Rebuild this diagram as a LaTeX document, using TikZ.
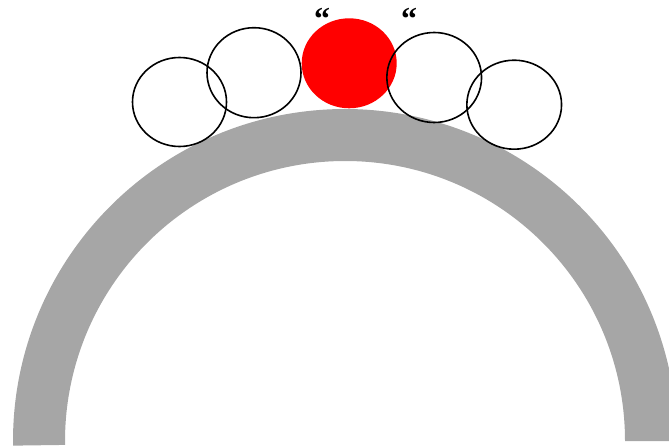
\documentclass[tikz,border=0pt]{standalone}
\usepackage{fontspec}
\newfontfamily\quotefont{Liberation Serif}
\usetikzlibrary{shapes.geometric}
\definecolor{arcgray}{HTML}{A6A6A6}
\definecolor{ballred}{HTML}{FF0000}
\tikzset{
  ringball/.style={ellipse, draw=black, line width=1.6pt, inner sep=0pt, fill=none},
  redball/.style={ellipse, fill=ballred, draw=none, inner sep=0pt},
  quotemark/.style={anchor=base, inner sep=0pt, font=\quotefont\bfseries\fontsize{32}{32}\selectfont}
}
\begin{document}
\begin{tikzpicture}[x=1pt,y=1pt]
\useasboundingbox (0,0) rectangle (669,445);
\clip (0,0) rectangle (669,445);
\fill[arcgray] (345,4) ++(180.8:332) arc[start angle=180.8,end angle=0,radius=332]
  -- ++(-52,0) arc[start angle=0,end angle=180.8,radius=280] -- cycle;
\node[ringball, minimum width=94, minimum height=89] (c1) at (179.5,343) {};
\node[ringball, minimum width=94, minimum height=90] (c2) at (254,372.3) {};
\node[redball, minimum width=95, minimum height=90] (red) at (349.2,381.7) {};
\node[ringball, minimum width=94.7, minimum height=90] (c4) at (434.2,367.5) {};
\node[ringball, minimum width=94.7, minimum height=89] (c5) at (514.2,340.3) {};
\node[quotemark] (q1) at (322,415) {“};
\node[quotemark] (q2) at (409,415) {“};
\end{tikzpicture}
\end{document}
